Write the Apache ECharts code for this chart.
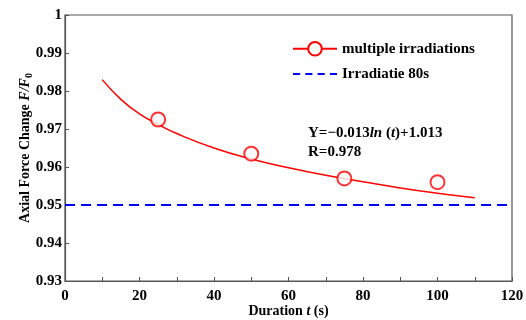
<!DOCTYPE html>
<html>
<head>
<meta charset="utf-8">
<script src="https://cdn.jsdelivr.net/npm/echarts@6/dist/echarts.min.js"></script>
<style>
html,body{margin:0;padding:0;background:#fff}
#main{width:526px;height:320px}
</style>
</head>
<body>
<div id="main"></div>
<script>
// measured points
var pointT = [25, 50, 75, 100]
var pointF = [0.9725, 0.9635, 0.957, 0.956]
// fitted curve
var fitT = [10, 15, 20, 25, 30, 40, 50, 60, 70, 80, 90, 100, 110]
var fitF = [0.983, 0.9778, 0.974, 0.9712, 0.9688, 0.965, 0.9621, 0.9598, 0.9578, 0.9561, 0.9545, 0.9531, 0.9519]
// reference level
var refT = [0, 120]
var refF = [0.95, 0.95]

var xTicks = [0, 20, 40, 60, 80, 100, 120]
var yTicks = [0.93, 0.94, 0.95, 0.96, 0.97, 0.98, 0.99, 1]

function pairs(a, b){
	var out = []
	for(var i=0;i<a.length;i++){
		out.push([a[i], b[i]])
	}
	return out
}

var serif = '"Liberation Serif", "DejaVu Serif", serif'
var chart = echarts.init(document.getElementById('main'))

var option = {
	animation:false,
	backgroundColor:'#fff',
	grid:{
		left:65, right:14, top:15, bottom:39,
		outerBoundsMode:'none',
		show:true, borderColor:'#555', borderWidth:1.2
	},
	legend:{
		orient:'vertical',
		left:287, top:36,
		itemGap:10,
		itemWidth:44, itemHeight:17,
		textStyle:{fontFamily:serif, fontWeight:'bold', fontSize:15, color:'#000'},
		data:[
			{name:'multiple irradiations'},
			{name:'Irradiatie 80s', icon:'path://M0,0h7v2h-7z M12,0h7v2h-7z M24,0h7v2h-7z M36,0h7v2h-7z'}
		]
	},
	xAxis:{
		type:'value', min:0, max:120, interval:20,
		name:'Duration {i|t} (s)',
		nameLocation:'middle', nameGap:23, nameMoveOverlap:false,
		nameTextStyle:{fontFamily:serif, fontWeight:'bold', fontSize:14, color:'#000',
			rich:{i:{fontFamily:serif, fontWeight:'bold', fontStyle:'italic', fontSize:14, color:'#000'}}},
		axisLine:{show:true, lineStyle:{color:'#555', width:1.2}},
		axisTick:{show:true, inside:true, length:4, lineStyle:{color:'#555'}},
		minorTick:{show:true, splitNumber:2, length:4, lineStyle:{color:'#555'}},
		splitLine:{show:false},
		axisLabel:{fontFamily:serif, fontWeight:'bold', fontSize:15, color:'#000', margin:8,
			formatter:function(v){ return xTicks.indexOf(v) > -1 ? String(v) : '' }}
	},
	yAxis:{
		type:'value', min:0.93, max:1, interval:0.01,
		name:'Axial Force Change {i|F/F}{s|0}',
		nameLocation:'middle', nameGap:31, nameRotate:90, nameMoveOverlap:false,
		nameTextStyle:{fontFamily:serif, fontWeight:'bold', fontSize:14, color:'#000',
			rich:{
				i:{fontFamily:serif, fontWeight:'bold', fontStyle:'italic', fontSize:14, color:'#000'},
				s:{fontFamily:serif, fontWeight:'bold', fontSize:10, color:'#000', padding:[7,0,0,0]}
			}},
		axisLine:{show:true, lineStyle:{color:'#555', width:1.2}},
		axisTick:{show:true, inside:true, length:4, lineStyle:{color:'#555'}},
		splitLine:{show:false},
		axisLabel:{fontFamily:serif, fontWeight:'bold', fontSize:15, color:'#000', margin:3,
			formatter:function(v){
				var r = Math.round(v*100)/100
				return yTicks.indexOf(r) > -1 ? String(r) : ''
			}}
	},
	graphic:[{
		type:'text', left:308, top:124,
		style:{
			text:'Y=\u22120.013{i|ln} ({i|t})+1.013\nR=0.978',
			fontFamily:serif, fontWeight:'bold', fontSize:15, fill:'#000', lineHeight:19,
			rich:{i:{fontFamily:serif, fontWeight:'bold', fontStyle:'italic', fontSize:15, fill:'#000'}}
		}
	}],
	series:[
		{
			name:'multiple irradiations',
			type:'line',
			smooth:true,
			symbol:'emptyCircle',
			showSymbol:false,
			color:'#ff0000',
			lineStyle:{color:'#ff0000', width:1.5},
			itemStyle:{color:'#ff0000'},
			data:pairs(fitT, fitF),
			z:3
		},
		{
			name:'points',
			type:'scatter',
			symbol:'emptyCircle',
			symbolSize:14,
			itemStyle:{color:'#ff0000', borderWidth:1.5},
			data:pairs(pointT, pointF),
			z:4
		},
		{
			name:'Irradiatie 80s',
			type:'line',
			symbol:'none',
			color:'#0000ff',
			lineStyle:{color:'#0000ff', width:2, type:[10,6]},
			data:pairs(refT, refF),
			z:2
		}
	]
}
chart.setOption(option)
</script>
</body>
</html>
